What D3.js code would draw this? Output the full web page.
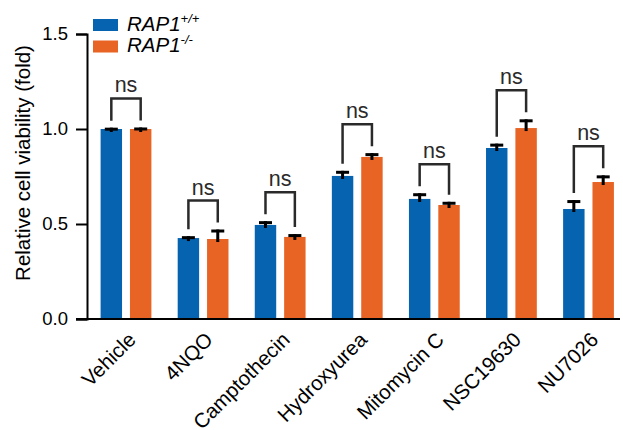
<!DOCTYPE html>
<html>
<head>
<meta charset="utf-8">
<script src="https://cdn.jsdelivr.net/npm/d3@7"></script>
<style>
  body { margin: 0; background: #fff; }
  svg text { font-family: Arial, "Liberation Sans", sans-serif; }
</style>
</head>
<body>
<div id="chart"></div>
<script>
// data
const categories = ["Vehicle", "4NQO", "Camptothecin", "Hydroxyurea", "Mitomycin C", "NSC19630", "NU7026"];
const series = ["wt", "ko"];
const wtValues = [1.0, 0.426, 0.495, 0.753, 0.632, 0.90, 0.579];
const wtErrors = [0.007, 0.01, 0.02, 0.027, 0.03, 0.023, 0.047];
const koValues = [1.0, 0.421, 0.432, 0.853, 0.60, 1.005, 0.721];
const koErrors = [0.008, 0.05, 0.015, 0.02, 0.017, 0.046, 0.035];
const yTicks = [0, 0.5, 1.0, 1.5];
const sigLabels = ["ns", "ns", "ns", "ns", "ns", "ns", "ns"];

const width = 623, height = 430;
const colors = { wt: "#0563b0", ko: "#e86424" };

const svg = d3.select("#chart").append("svg")
  .attr("width", width)
  .attr("height", height);

const y = d3.scaleLinear().domain([0, 1.5]).range([319, 34]);
const x0 = d3.scaleBand().domain(categories).range([87.4, 627]);
const x1 = d3.scaleBand().domain(series).range([13.2, 64]).paddingInner(0.27);

const rows = categories.map((c, i) => ({
  cat: c,
  bars: [
    { key: "wt", v: wtValues[i], e: wtErrors[i] },
    { key: "ko", v: koValues[i], e: koErrors[i] }
  ],
  sig: sigLabels[i]
}));

// bars
const groups = svg.selectAll(".grp")
  .data(rows)
  .join("g")
  .attr("class", "grp")
  .attr("transform", d => `translate(${x0(d.cat)},0)`);

groups.selectAll("rect.bar")
  .data(d => d.bars)
  .join("rect")
  .attr("class", "bar")
  .attr("x", d => x1(d.key))
  .attr("width", x1.bandwidth())
  .attr("y", d => y(d.v))
  .attr("height", d => y(0) - y(d.v))
  .attr("fill", d => colors[d.key]);

// error bars (upper only)
groups.selectAll("rect.stem")
  .data(d => d.bars)
  .join("rect")
  .attr("class", "stem")
  .attr("x", d => x1(d.key) + x1.bandwidth() / 2 - 1.5)
  .attr("width", 3)
  .attr("y", d => y(d.v + d.e))
  .attr("height", d => y(d.v) - y(d.v + d.e) + 3)
  .attr("fill", "#000");

groups.selectAll("rect.cap")
  .data(d => d.bars)
  .join("rect")
  .attr("class", "cap")
  .attr("x", d => x1(d.key) + x1.bandwidth() / 2 - 6.5)
  .attr("width", 13)
  .attr("y", d => y(d.v + d.e))
  .attr("height", 3)
  .attr("fill", "#000");

// significance brackets
groups.each(function(d) {
  const g = d3.select(this);
  const [a, b] = d.bars;
  const xa = x1(a.key) + x1.bandwidth() / 2;
  const xb = x1(b.key) + x1.bandwidth() / 2;
  const top = y(Math.max(a.v + a.e, b.v + b.e)) - 29;
  g.append("path")
    .attr("d", `M${xa},${y(a.v + a.e) - 7}V${top}H${xb}V${y(b.v + b.e) - 7}`)
    .attr("fill", "none")
    .attr("stroke", "#2a2a2a")
    .attr("stroke-width", 2.5);
  g.append("text")
    .attr("x", (xa + xb) / 2)
    .attr("y", top - 6)
    .attr("text-anchor", "middle")
    .attr("font-size", 21.5)
    .attr("fill", "#2a2a2a")
    .text(d.sig);
});

// y axis
const yAxis = svg.append("g")
  .attr("transform", "translate(87,0)")
  .call(d3.axisLeft(y).tickValues(yTicks).tickFormat(d3.format(".1f")).tickSize(11).tickPadding(8));
yAxis.select(".domain").attr("stroke", "#000").attr("stroke-width", 2);
yAxis.selectAll(".tick line").attr("stroke", "#000").attr("stroke-width", 2);
yAxis.selectAll(".tick text").attr("font-size", 18.5).attr("fill", "#000")
  .style("font-family", "Arial, 'Liberation Sans', sans-serif");

// x axis
svg.append("line")
  .attr("x1", 76).attr("x2", 620)
  .attr("y1", y(0)).attr("y2", y(0))
  .attr("stroke", "#000").attr("stroke-width", 2);

const xAxis = svg.append("g")
  .attr("transform", `translate(0,${y(0)})`)
  .call(d3.axisBottom(x0).tickSize(0).tickPadding(0));
xAxis.select(".domain").remove();
xAxis.selectAll(".tick text")
  .attr("font-size", 20.5)
  .attr("fill", "#000")
  .style("font-family", "Arial, 'Liberation Sans', sans-serif")
  .attr("text-anchor", "end")
  .attr("dy", 0)
  .attr("transform", "translate(11,22) rotate(-45)");

// y title
svg.append("text")
  .attr("transform", "translate(30,163) rotate(-90)")
  .attr("text-anchor", "middle")
  .attr("font-size", 20.5)
  .attr("fill", "#000")
  .text("Relative cell viability (fold)");

// legend
const legendLabels = [["RAP1", "+/+"], ["RAP1", "-/-"]];
const legend = svg.selectAll(".leg")
  .data(series)
  .join("g")
  .attr("class", "leg")
  .attr("transform", (d, i) => `translate(93,${19 + i * 21.5})`);
legend.append("rect")
  .attr("width", 25).attr("height", 12)
  .attr("fill", d => colors[d]);
const lt = legend.append("text")
  .attr("x", 34).attr("y", 11.5)
  .attr("font-size", 20.5)
  .attr("font-style", "italic")
  .attr("fill", "#000");
lt.append("tspan").text((d, i) => legendLabels[i][0]);
lt.append("tspan")
  .attr("font-size", 13)
  .attr("dy", -8)
  .text((d, i) => legendLabels[i][1]);
</script>
</body>
</html>
